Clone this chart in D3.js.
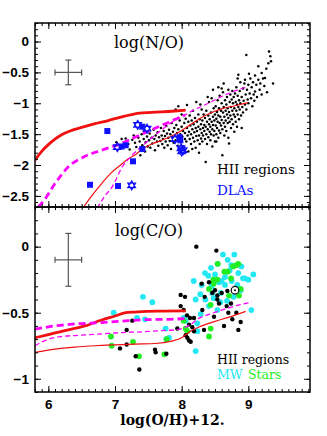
<!DOCTYPE html>
<html>
<head>
<meta charset="utf-8">
<script src="https://cdn.jsdelivr.net/npm/d3@7"></script>
<style>
  body { margin: 0; background: #fff; }
  .tick text { font-family: 'Liberation Sans', Arial, sans-serif; font-weight: bold; font-size: 13.5px; fill: #000; }
  .tick line { stroke: #000; stroke-width: 1; }
  .serif { font-family: 'DejaVu Serif', serif; }
</style>
</head>
<body>
<div id="chart"></div>
<script>
// ---- data ----

// top panel: log(N/O) vs log(O/H)+12
var hiiNO = [
  [7.02,-1.63],[7.1,-1.58],[7.16,-1.57],[7.2,-1.66],[7.26,-1.59],[7.28,-1.52],[7.22,-1.75],[7.3,-1.64],
  [7.32,-1.71],[7.35,-1.56],[7.37,-1.62],[7.4,-1.5],[7.41,-1.68],[7.43,-1.58],[7.45,-1.78],[7.46,-1.63],[7.48,-1.54],[7.49,-1.7],[7.44,-1.45],[7.38,-1.84],
  [7.51,-1.6],[7.52,-1.49],[7.53,-1.72],[7.55,-1.56],[7.56,-1.65],[7.58,-1.43],[7.59,-1.58],[7.6,-1.76],[7.61,-1.52],[7.63,-1.62],[7.64,-1.47],[7.65,-1.69],[7.66,-1.55],[7.68,-1.61],[7.69,-1.4],[7.7,-1.52],
  [7.71,-1.66],[7.72,-1.58],[7.73,-1.45],[7.74,-1.72],[7.75,-1.53],[7.76,-1.62],[7.77,-1.37],[7.78,-1.49],[7.79,-1.68],[7.8,-1.56],[7.81,-1.43],[7.82,-1.61],[7.83,-1.5],[7.84,-1.74],[7.85,-1.32],[7.86,-1.55],[7.87,-1.46],[7.88,-1.64],[7.89,-1.4],[7.9,-1.52],
  [7.91,-1.1],[7.91,-1.6],[7.92,-1.35],[7.93,-1.48],[7.94,-1.69],[7.95,-1.05],[7.95,-1.42],[7.96,-1.56],[7.97,-1.28],[7.98,-1.5],[7.99,-1.63],[8.0,-1.38],[8.0,-1.18],[8.01,-1.54],[8.02,-1.45],[8.03,-1.7],[8.04,-1.32],[8.05,-1.58],[8.05,-1.48],[8.06,-1.25],[8.07,-1.62],[8.08,-1.4],[8.09,-1.52],[8.1,-1.78],[8.1,-1.3],[8.08,-1.03],
  [8.11,-1.46],[8.12,-1.58],[8.12,-1.2],[8.13,-1.36],[8.14,-1.66],[8.14,-1.5],[8.15,-1.28],[8.16,-1.42],[8.17,-1.56],[8.17,-1.12],[8.18,-1.34],[8.19,-1.62],[8.19,-1.47],[8.2,-1.24],[8.21,-1.4],[8.21,-1.72],[8.22,-1.53],[8.23,-1.3],[8.23,-1.45],[8.24,-1.6],[8.25,-1.18],[8.25,-1.38],[8.26,-1.52],[8.27,-1.26],[8.27,-1.66],[8.28,-1.42],[8.29,-1.34],[8.29,-1.57],[8.3,-1.1],[8.3,-1.48],[8.22,-0.98],[8.26,-1.8],[8.16,-1.74],[8.28,-1.02],
  [8.31,-1.28],[8.31,-1.62],[8.32,-1.4],[8.32,-1.52],[8.33,-1.18],[8.34,-1.35],[8.34,-1.45],[8.35,-1.58],[8.35,-1.24],[8.36,-1.95],[8.36,-1.38],[8.37,-1.5],[8.37,-1.12],[8.38,-1.3],[8.38,-1.66],[8.39,-1.42],[8.4,-1.2],[8.4,-1.55],[8.41,-1.34],[8.41,-0.98],[8.42,-1.46],[8.42,-1.26],[8.43,-1.6],[8.43,-1.38],[8.44,-1.15],[8.44,-1.5],[8.45,-1.3],[8.45,-0.92],[8.46,-1.42],[8.46,-1.7],[8.47,-1.22],[8.47,-1.35],[8.48,-1.52],[8.48,-1.08],[8.49,-1.28],[8.49,-1.45],[8.5,-1.18],[8.5,-1.62],[8.39,-0.9],[8.47,-0.78],
  [8.51,-1.36],[8.51,-1.05],[8.52,-1.25],[8.52,-1.5],[8.53,-1.14],[8.53,-1.4],[8.54,-0.95],[8.54,-1.3],[8.55,-1.2],[8.55,-1.56],[8.56,-1.08],[8.56,-1.44],[8.57,-1.32],[8.57,-0.88],[8.58,-1.22],[8.58,-1.48],[8.59,-1.12],[8.59,-1.36],[8.6,-1.0],[8.6,-1.27],[8.61,-1.84],[8.61,-1.42],[8.62,-1.15],[8.62,-0.82],[8.63,-1.32],[8.63,-1.06],[8.64,-1.22],[8.64,-1.52],[8.65,-0.95],[8.65,-1.38],[8.66,-1.12],[8.66,-1.28],[8.67,-1.02],[8.67,-1.45],[8.68,-0.9],[8.68,-1.18],[8.69,-1.32],[8.69,-1.08],[8.7,-1.24],[8.7,-0.78],[8.7,-1.56],[8.63,-0.68],[8.6,-0.76],[8.55,-0.74],[8.52,-1.62],
  [8.71,-1.65],[8.71,-1.14],[8.72,-0.98],[8.72,-1.3],[8.73,-1.2],[8.73,-0.86],[8.74,-1.06],[8.74,-1.4],[8.75,-0.94],[8.75,-1.26],[8.76,-1.12],[8.76,-0.8],[8.77,-1.34],[8.77,-1.0],[8.78,-1.18],[8.78,-0.9],[8.79,-1.08],[8.79,-1.46],[8.8,-0.84],[8.8,-1.22],[8.81,-0.98],[8.81,-1.3],[8.82,-1.12],[8.82,-0.74],[8.83,-1.02],[8.83,-1.38],[8.84,-0.88],[8.84,-1.18],[8.85,-0.54],[8.85,-1.06],[8.86,-0.95],[8.86,-1.26],[8.87,-0.8],[8.87,-1.1],[8.88,-0.66],[8.88,-1.0],[8.89,-1.2],[8.9,-0.9],[8.9,-1.4],[8.84,-0.6],
  [8.91,-1.06],[8.92,-0.76],[8.92,-1.15],[8.93,-0.96],[8.94,-0.68],[8.95,-1.02],[8.95,-0.62],[8.96,-0.86],[8.97,-0.22],[8.97,-1.1],[8.98,-0.78],[8.99,-0.94],[9.0,-0.7],[9.0,-1.0],[9.02,-0.84],[9.03,-0.6],[9.04,-0.92],[9.05,-0.74],[9.06,-1.05],[9.07,-0.66],[9.08,-0.86],[9.1,-0.81],[9.1,-0.55],[9.09,-0.96],[9.01,-0.52],
  [9.12,-0.7],[9.13,-0.9],[9.15,-0.4],[9.15,-0.62],[9.17,-0.78],[9.18,-0.68],[9.2,-0.51],[9.2,-0.86],[9.22,-0.6],[9.24,-0.72],[9.25,-0.59],[9.27,-0.44],[9.3,-0.35],[9.31,-0.16],[9.33,-0.24],[9.34,-0.32],[9.37,-0.68],[9.28,-0.82]
]
var dlaSquares = [[6.885,-1.45],[6.625,-2.32],[7.045,-2.34],[7.1,-1.7],[7.16,-1.68],[7.27,-1.94],[7.41,-1.74],[7.41,-1.38],[7.97,-1.55],[7.98,-1.6]]
var dlaStars = [[7.035,-1.71],[7.25,-2.33],[7.34,-1.35],[7.48,-1.41],[7.9,-1.58],[7.99,-1.73],[8.02,-1.76],[8.0,-1.78]]

// model curves, top panel
var noThickRedX = [5.8,5.9,6.0,6.1,6.2,6.35,6.5,6.7,6.9,7.1,7.3,7.5,7.7,7.9,8.06]
var noThickRedY = [-1.92,-1.78,-1.67,-1.58,-1.51,-1.44,-1.39,-1.33,-1.28,-1.22,-1.17,-1.15,-1.14,-1.125,-1.11]
var noThinRedX = [6.53,6.65,6.8,6.95,7.06,7.2,7.31,7.4,7.55,7.7,7.85,8.0,8.15,8.3,8.45,8.6,8.8,8.99]
var noThinRedY = [-2.68,-2.5,-2.3,-2.12,-2.02,-1.9,-1.83,-1.75,-1.66,-1.6,-1.53,-1.44,-1.33,-1.23,-1.15,-1.09,-1.04,-0.99]
var noThickMagX = [5.85,5.95,6.1,6.3,6.55,6.8,7.05,7.3,7.55,7.8,8.05]
var noThickMagY = [-2.68,-2.55,-2.3,-2.03,-1.86,-1.76,-1.67,-1.55,-1.43,-1.31,-1.19]
var noThinMagX = [6.73,6.85,6.96,7.11,7.25,7.4,7.55,7.7,7.85,8.0,8.2,8.4,8.6,8.8,9.0]
var noThinMagY = [-2.7,-2.5,-2.35,-2.03,-1.85,-1.7,-1.56,-1.43,-1.31,-1.22,-1.1,-1.0,-0.89,-0.8,-0.73]

// bottom panel: log(C/O)
var hiiCO = [[8.22,0.0],[8.52,-0.03],[7.985,-0.365],[8.05,-0.38],[7.985,-0.45],[8.03,-0.48],[8.3,-0.28],[8.41,-0.27],[8.5,-0.33],[8.535,-0.37],[8.535,-0.4],[8.56,-0.43],[8.345,-0.38],[8.31,-0.48],[8.485,-0.53],[8.675,-0.45],[8.7,-0.5],[8.76,-0.55],[8.82,-0.5],[8.885,-0.57],[8.85,-0.63],[8.635,-0.6],[8.685,-0.335],[8.6,-0.35],[8.185,-0.54],[8.11,-0.59],[8.16,-0.61],[8.185,-0.64],[8.085,-0.69],[8.11,-0.71],[8.135,-0.72],[8.06,-0.67],[7.935,-0.62],[7.175,-0.63],[7.26,-0.56],[7.075,-0.77],[7.175,-0.74],[7.365,-0.93],[7.31,-0.83],[7.6,-0.78],[7.61,-0.8],[7.77,-0.81],[8.08,-0.52],[8.335,-0.63],[8.125,-0.54],[8.74,-0.43],[8.46,-0.35]]
var mwCO = [[8.62,-0.06],[8.79,-0.06],[8.69,-0.1],[8.54,-0.13],[8.44,-0.16],[8.745,-0.14],[8.895,-0.15],[8.35,-0.2],[8.5,-0.21],[8.65,-0.23],[8.85,-0.2],[8.95,-0.24],[9.075,-0.21],[9.0,-0.25],[8.18,-0.26],[8.3,-0.29],[8.45,-0.3],[8.6,-0.26],[8.65,-0.29],[8.75,-0.26],[8.835,-0.29],[8.885,-0.33],[8.21,-0.4],[8.28,-0.36],[8.355,-0.4],[8.48,-0.39],[8.58,-0.42],[8.78,-0.38],[8.41,-0.45],[8.535,-0.48],[8.285,-0.51],[8.235,-0.58],[8.235,-0.64],[9.045,-0.48],[8.46,-0.35],[8.72,-0.18],[8.585,-0.35],[8.92,-0.24],[6.98,-0.5],[7.33,-0.54],[7.42,-0.38],[7.56,-0.42],[7.76,-0.62],[7.77,-0.7],[7.81,-0.69],[7.45,-0.55],[8.03,-0.54],[8.06,-0.56],[8.21,-0.79],[8.56,-0.27],[8.4,-0.22],[8.68,-0.41]]
var starsCO = [[8.54,-0.13],[8.69,-0.19],[8.82,-0.14],[8.77,-0.15],[8.85,-0.13],[8.535,-0.25],[8.64,-0.19],[8.74,-0.24],[8.475,-0.25],[8.41,-0.32],[8.48,-0.28],[8.885,-0.32],[8.86,-0.37],[8.71,-0.37],[8.435,-0.44],[8.435,-0.62],[8.41,-0.68],[8.03,-0.56],[8.06,-0.62],[7.775,-0.7],[6.94,-0.68],[6.95,-0.75],[7.27,-0.72],[7.36,-0.83],[7.74,-0.815],[8.085,-0.64]]
var sunCO = [8.8, -0.33]

var coThickRedX = [5.8,6.0,6.3,6.55,6.8,7.0,7.16,7.3,7.46,7.7,8.06]
var coThickRedY = [-0.69,-0.665,-0.63,-0.6,-0.555,-0.525,-0.5,-0.495,-0.49,-0.488,-0.486]
var coThinRedX = [5.8,6.1,6.4,6.7,7.0,7.3,7.6,7.85,8.0,8.13,8.3,8.5,8.7,8.96]
var coThinRedY = [-0.8,-0.775,-0.76,-0.75,-0.743,-0.737,-0.733,-0.715,-0.69,-0.64,-0.6,-0.565,-0.535,-0.49]
var coThickMagX = [5.8,6.1,6.4,6.8,7.2,7.5,7.8,8.05]
var coThickMagY = [-0.625,-0.6,-0.585,-0.575,-0.56,-0.552,-0.55,-0.545]
var coThinMagX = [5.8,6.0,6.2,6.5,6.8,7.1,7.4,7.7,7.9,8.13,8.25,8.4,8.6,8.8,9.05]
var coThinMagY = [-0.75,-0.7,-0.68,-0.67,-0.66,-0.65,-0.645,-0.635,-0.63,-0.59,-0.545,-0.515,-0.48,-0.45,-0.42]

// ---- layout ----
var W = 327, H = 436
var left = 35, right = 310
var topY0 = 23, midY = 207, botY1 = 392

var svg = d3.select('#chart').append('svg').attr('width', W).attr('height', H)

var x = d3.scaleLinear().domain([5.8, 9.925]).range([left, right])
var yTop = d3.scaleLinear().domain([-2.68, 0.3]).range([midY, topY0])
var yBot = d3.scaleLinear().domain([-1.1, 0.3]).range([botY1, midY])

var fmt = d3.format('')
var xMinor = d3.range(58, 100).map(function (d) { return d / 10 })
var xMajor = [6, 7, 8, 9]

function addClip (id, y0, y1) {
  svg.append('clipPath').attr('id', id).append('rect')
    .attr('x', left).attr('y', y0).attr('width', right - left).attr('height', y1 - y0)
}
addClip('clipTop', topY0, midY)
addClip('clipBot', midY, botY1)

function drawAxes (y, y0, y1, majors, minors, showX) {
  var g = svg.append('g')
  // y axes, ticks inward
  g.append('g').attr('transform', 'translate(' + left + ',0)')
    .call(d3.axisLeft(y).tickValues(minors).tickSize(-3).tickFormat(''))
  g.append('g').attr('transform', 'translate(' + left + ',0)')
    .call(d3.axisLeft(y).tickValues(majors).tickSize(-6).tickPadding(6).tickFormat(fmt))
  g.append('g').attr('transform', 'translate(' + right + ',0)')
    .call(d3.axisRight(y).tickValues(minors).tickSize(-3).tickFormat(''))
  g.append('g').attr('transform', 'translate(' + right + ',0)')
    .call(d3.axisRight(y).tickValues(majors).tickSize(-6).tickFormat(''))
  // x axes
  g.append('g').attr('transform', 'translate(0,' + y0 + ')')
    .call(d3.axisTop(x).tickValues(xMinor).tickSize(-3).tickFormat(''))
  g.append('g').attr('transform', 'translate(0,' + y0 + ')')
    .call(d3.axisTop(x).tickValues(xMajor).tickSize(-6).tickFormat(''))
  g.append('g').attr('transform', 'translate(0,' + y1 + ')')
    .call(d3.axisBottom(x).tickValues(xMinor).tickSize(-3).tickFormat(''))
  g.append('g').attr('transform', 'translate(0,' + y1 + ')')
    .call(d3.axisBottom(x).tickValues(xMajor).tickSize(-6).tickPadding(7).tickFormat(showX ? fmt : ''))
  g.selectAll('.domain').remove()
  g.append('rect').attr('x', left).attr('y', y0).attr('width', right - left).attr('height', y1 - y0)
    .attr('fill', 'none').attr('stroke', '#000').attr('stroke-width', 1.5)
}

function drawCurve (g, xs, ys, y, color, width, dash) {
  var line = d3.line().x(function (d) { return x(d[0]) }).y(function (d) { return y(d[1]) })
    .curve(d3.curveMonotoneX)
  g.append('path').datum(xs.map(function (v, i) { return [v, ys[i]] }))
    .attr('d', line).attr('fill', 'none').attr('stroke', color)
    .attr('stroke-width', width).attr('stroke-dasharray', dash || null)
}

function drawErrorCross (g, y, cx, cy, dx, dy) {
  var c = '#555'
  var px = x(cx), py = y(cy)
  g.append('line').attr('x1', x(cx - dx)).attr('x2', x(cx + dx)).attr('y1', py).attr('y2', py)
  g.append('line').attr('x1', px).attr('x2', px).attr('y1', y(cy + dy)).attr('y2', y(cy - dy))
  ;[x(cx - dx), x(cx + dx)].forEach(function (ex) {
    g.append('line').attr('x1', ex).attr('x2', ex).attr('y1', py - 3).attr('y2', py + 3)
  })
  ;[y(cy + dy), y(cy - dy)].forEach(function (ey) {
    g.append('line').attr('x1', px - 3).attr('x2', px + 3).attr('y1', ey).attr('y2', ey)
  })
  g.selectAll('line').attr('stroke', c).attr('stroke-width', 1.2)
}

// ---- top panel ----
var gTop = svg.append('g').attr('clip-path', 'url(#clipTop)')
gTop.selectAll('circle.hii').data(hiiNO).enter().append('circle')
  .attr('cx', function (d) { return x(d[0]) }).attr('cy', function (d) { return yTop(d[1]) })
  .attr('r', 1.25).attr('fill', '#000')

drawCurve(gTop, noThickRedX, noThickRedY, yTop, '#f01010', 2.8)
drawCurve(gTop, noThinRedX, noThinRedY, yTop, '#f01010', 1.2)
drawCurve(gTop, noThickMagX, noThickMagY, yTop, '#ff00ff', 2.8, '7,4')
drawCurve(gTop, noThinMagX, noThinMagY, yTop, '#ff00ff', 1.3, '5,3')

gTop.selectAll('rect.dla').data(dlaSquares).enter().append('rect')
  .attr('x', function (d) { return x(d[0]) - 3 }).attr('y', function (d) { return yTop(d[1]) - 3 })
  .attr('width', 6).attr('height', 6).attr('fill', '#1010ff')

var starR = 4.5
var hexagram = d3.range(2).map(function (k) {
  var s = k ? -1 : 1
  return 'M0,' + (-s * starR) + 'L' + (starR * 0.866) + ',' + (s * starR / 2) + 'L' + (-starR * 0.866) + ',' + (s * starR / 2) + 'Z'
}).join('')
gTop.selectAll('path.star').data(dlaStars).enter().append('path')
  .attr('transform', function (d) { return 'translate(' + x(d[0]) + ',' + yTop(d[1]) + ')' })
  .attr('d', hexagram).attr('fill', 'none').attr('stroke', '#1010ff').attr('stroke-width', 1.2)

drawErrorCross(svg.append('g'), yTop, 6.3, -0.5, 0.2, 0.2)

svg.append('text').attr('class', 'serif').attr('x', 149).attr('y', 48).attr('text-anchor', 'middle')
  .attr('font-size', 16).text('log(N/O)')
svg.append('text').attr('class', 'serif').attr('x', 217).attr('y', 174)
  .attr('font-size', 13.5).attr('fill', '#000').text('HII regions')
svg.append('text').attr('class', 'serif').attr('x', 217).attr('y', 195)
  .attr('font-size', 13.5).attr('fill', '#1010ff').text('DLAs')

// ---- bottom panel ----
var gBot = svg.append('g').attr('clip-path', 'url(#clipBot)')
var cyan = '#22e8f4', green = '#22ee22'
gBot.selectAll('circle.mw').data(mwCO).enter().append('circle')
  .attr('cx', function (d) { return x(d[0]) }).attr('cy', function (d) { return yBot(d[1]) })
  .attr('r', 2.9).attr('fill', cyan)
gBot.selectAll('circle.st').data(starsCO).enter().append('circle')
  .attr('cx', function (d) { return x(d[0]) }).attr('cy', function (d) { return yBot(d[1]) })
  .attr('r', 2.9).attr('fill', green)
gBot.selectAll('circle.hii').data(hiiCO).enter().append('circle')
  .attr('cx', function (d) { return x(d[0]) }).attr('cy', function (d) { return yBot(d[1]) })
  .attr('r', 2.2).attr('fill', '#000')

drawCurve(gBot, coThickRedX, coThickRedY, yBot, '#f01010', 2.8)
drawCurve(gBot, coThinRedX, coThinRedY, yBot, '#f01010', 1.2)
drawCurve(gBot, coThickMagX, coThickMagY, yBot, '#ff00ff', 2.8, '7,4')
drawCurve(gBot, coThinMagX, coThinMagY, yBot, '#ff00ff', 1.3, '5,3')

// sun symbol
gBot.append('circle').attr('cx', x(sunCO[0])).attr('cy', yBot(sunCO[1])).attr('r', 3.8)
  .attr('fill', '#fff').attr('stroke', '#000').attr('stroke-width', 1.2)
gBot.append('circle').attr('cx', x(sunCO[0])).attr('cy', yBot(sunCO[1])).attr('r', 1).attr('fill', '#000')

drawErrorCross(svg.append('g'), yBot, 6.3, -0.1, 0.2, 0.2)

svg.append('text').attr('class', 'serif').attr('x', 149).attr('y', 236).attr('text-anchor', 'middle')
  .attr('font-size', 16).text('log(C/O)')
svg.append('text').attr('class', 'serif').attr('x', 217).attr('y', 364)
  .attr('font-size', 12.5).attr('fill', '#000').text('HII regions')
svg.append('text').attr('class', 'serif').attr('x', 217).attr('y', 379)
  .attr('font-size', 12.5).attr('fill', cyan).text('MW')
svg.append('text').attr('class', 'serif').attr('x', 248).attr('y', 379)
  .attr('font-size', 12.5).attr('fill', green).text('Stars')

// ---- axes ----
drawAxes(yTop, topY0, midY, [-2.5, -2, -1.5, -1, -0.5, 0], d3.range(-26, 4).map(function (d) { return d / 10 }), false)
drawAxes(yBot, midY, botY1, [-1, -0.5, 0], d3.range(-11, 4).map(function (d) { return d / 10 }), true)

svg.append('text').attr('class', 'serif').attr('x', 172.5).attr('y', 425).attr('text-anchor', 'middle')
  .attr('font-size', 14).attr('font-weight', 'bold').text('log(O/H)+12.')
</script>
</body>
</html>
